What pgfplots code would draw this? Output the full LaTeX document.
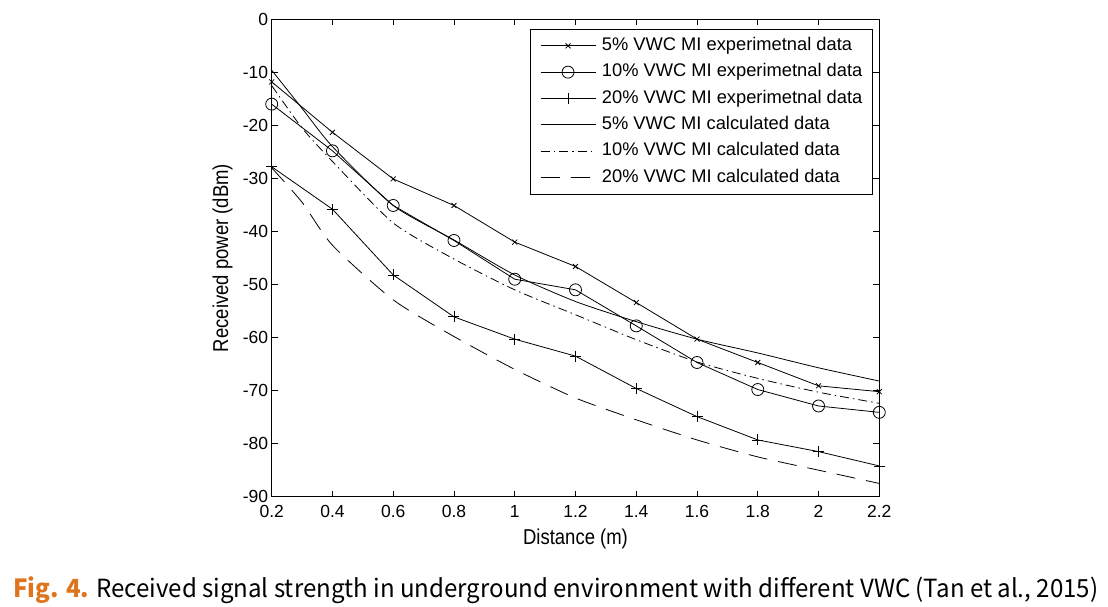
\documentclass[border=0pt]{standalone}
\usepackage{fontspec}
\usepackage{pgfplots}
\pgfplotsset{compat=1.18}
\setmainfont{Liberation Sans}
\newfontfamily\labfont{Liberation Sans}[FakeStretch=0.86]
\newfontfamily\capfont{Noto Sans CJK KR}
\definecolor{figorange}{RGB}{222,117,30}

\pgfplotstableread{
x     e5     e10    e20
0.2  -11.8  -16.0  -27.8
0.4  -21.3  -24.8  -35.8
0.6  -30.1  -35.1  -48.2
0.8  -35.1  -41.7  -56.1
1.0  -42.0  -49.0  -60.3
1.2  -46.6  -51.0  -63.5
1.4  -53.4  -57.8  -69.6
1.6  -60.3  -64.7  -74.9
1.8  -64.7  -69.8  -79.3
2.0  -69.1  -72.9  -81.5
2.2  -70.2  -74.1  -84.2
}\exptable

\pgfplotstableread{
x     c5     c10    c20
0.2   -9.6  -12.5  -28.0
0.3  -16.8  -20.5  -34.5
0.4  -24.0  -26.8  -42.6
0.6  -35.1  -38.4  -52.9
0.8  -41.6  -45.2  -59.8
1.0  -48.2  -51.0  -66.0
1.2  -53.2  -55.7  -71.4
1.4  -57.0  -60.4  -75.5
1.6  -60.3  -64.6  -79.3
1.8  -62.9  -67.7  -82.5
2.0  -65.7  -70.3  -85.0
2.2  -68.2  -72.4  -87.5
}\calctable

\begin{document}
\begin{tikzpicture}
\useasboundingbox (0,0) rectangle (1108pt,607pt);
\begin{axis}[
  at={(271.7pt,110.3pt)}, anchor=south west,
  scale only axis, width=607.6pt, height=477.4pt,
  xmin=0.2, xmax=2.2, ymin=-90, ymax=0,
  xtick={0.2,0.4,0.6,0.8,1.0,1.2,1.4,1.6,1.8,2.0,2.2},
  xticklabels={0.2,0.4,0.6,0.8,1,1.2,1.4,1.6,1.8,2,2.2},
  ytick={-90,-80,-70,-60,-50,-40,-30,-20,-10,0},
  yticklabels={-90,-80,-70,-60,-50,-40,-30,-20,-10,0},
  tick align=inside, major tick length=6pt,
  axis line style={line width=0.8pt},
  every tick/.style={line width=0.8pt, black},
  ticklabel style={font=\fontsize{17.5}{20}\selectfont},
  xticklabel style={yshift=-5pt},
  xlabel={\labfont\fontsize{21.5}{24}\selectfont Distance (m)},
  ylabel={\labfont\fontsize{21.5}{24}\selectfont Received power (dBm)},
  xlabel style={at={(axis description cs:0.5,-0.101)}, anchor=base},
  ylabel style={at={(axis description cs:-0.081,0.5)}, anchor=center},
  legend cell align=left,
  legend image code/.code={\draw[mark repeat=2,mark phase=2,#1] plot coordinates {(0pt,0pt) (27.5pt,0pt) (55pt,0pt)};},
  legend style={at={(1,1)}, anchor=north east, xshift=-6.6pt, yshift=-9.4pt,
    draw=black, line width=0.8pt,
    font=\fontsize{18.3}{22}\selectfont,
    inner xsep=10pt, inner ysep=8.4pt, row sep=9.6pt, column sep=6pt,
    nodes={inner sep=0pt, text height=13.2pt, text depth=3.5pt}},
  every axis plot/.append style={line width=0.8pt, black},
]
\addplot[mark=x, mark size=3.5pt] table[x=x,y=e5] {\exptable};
\addlegendentry{5\% VWC MI experimetnal data}
\addplot[mark=o, mark size=6pt] table[x=x,y=e10] {\exptable};
\addlegendentry{10\% VWC MI experimetnal data}
\addplot[mark=+, mark size=5.5pt] table[x=x,y=e20] {\exptable};
\addlegendentry{20\% VWC MI experimetnal data}
\addplot[smooth, tension=0.4] table[x=x,y=c5] {\calctable};
\addlegendentry{5\% VWC MI calculated data}
\addplot[smooth, tension=0.4, dash pattern=on 9pt off 4pt on 1.5pt off 4pt] table[x=x,y=c10] {\calctable};
\addlegendentry{10\% VWC MI calculated data}
\addplot[smooth, tension=0.4, dash pattern=on 19pt off 11pt] table[x=x,y=c20] {\calctable};
\addlegendentry{20\% VWC MI calculated data}
\end{axis}
\node[anchor=base west, inner sep=0pt] at (13pt,9pt) {\resizebox{1085pt}{\height}{\capfont\fontsize{25}{30}\selectfont{\color{figorange}\bfseries Fig. 4.} Received signal strength in underground environment with different VWC (Tan et al., 2015)}};
\end{tikzpicture}
\end{document}
